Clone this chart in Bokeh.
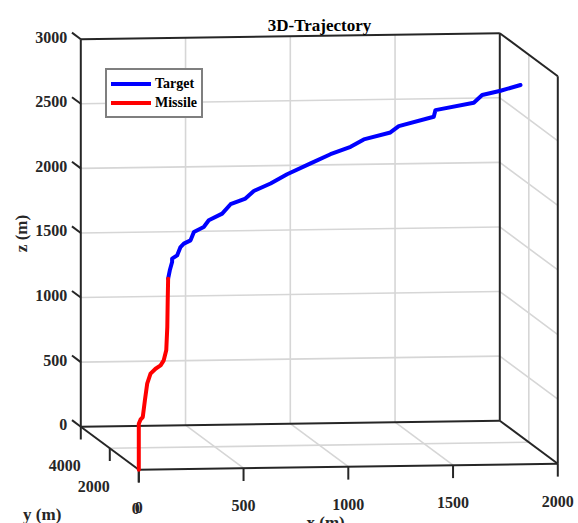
import numpy as np
from bokeh.plotting import figure
from bokeh.models import Range1d, Legend, LegendItem
from bokeh.core.properties import value
from bokeh.embed import file_html
from bokeh.resources import INLINE

# ---------------- data ----------------
title_text = "3D-Trajectory"
x_label = "x (m)"
y_label = "y (m)"
z_label = "z (m)"

x_ticks = [0, 500, 1000, 1500, 2000]
y_ticks = [0, 2000, 4000]
z_ticks = [0, 500, 1000, 1500, 2000, 2500, 3000]
x_lim = [0, 2000]
y_lim = [0, 4000]
z_lim = [0, 3000]

target_x = [140, 148, 159, 159, 183, 199, 215, 247, 263, 310, 334, 398, 438, 509, 549,
            629, 708, 820, 915, 1011, 1074, 1201, 1241, 1408, 1416, 1599, 1639, 1727, 1822]
target_y = [0, 0, 0, 0, 0, 0, 0, 0, 0, 0, 0, 0, 0, 0, 0,
            0, 0, 0, 0, 0, 0, 0, 0, 0, 0, 0, 0, 0, 0]
target_z = [1476, 1540, 1604, 1630, 1655, 1719, 1745, 1770, 1834, 1872, 1923, 1973, 2045, 2087, 2145,
            2201, 2271, 2352, 2421, 2476, 2532, 2583, 2631, 2700, 2751, 2804, 2863, 2894, 2936]

missile_x = [0, 0, 8, 19, 29, 40, 56, 80, 104, 119, 131, 136, 138, 140]
missile_y = [0, 0, 0, 0, 0, 0, 0, 0, 0, 0, 0, 0, 0, 0]
missile_z = [0, 356, 387, 407, 536, 665, 742, 780, 805, 844, 921, 1101, 1308, 1476]

# ---------------- projection (orthographic view, picture pixels) ----------------
W, H = 578, 523
ORIGIN = (138.3, 469.2)
EX = (419.0 / 2000, -6.0 / 2000)
EY = (-58.0 / 4000, -43.0 / 4000)
EZ = (0.0, -387.5 / 3000)


def proj(x, y, z):
    x = np.asarray(x, float)
    y = np.asarray(y, float)
    z = np.asarray(z, float)
    sx = ORIGIN[0] + x * EX[0] + y * EY[0] + z * EZ[0]
    sy = ORIGIN[1] + x * EX[1] + y * EY[1] + z * EZ[1]
    return sx, sy


def seg(p0, p1):
    a = proj(*p0)
    b = proj(*p1)
    return [float(a[0]), float(b[0])], [float(a[1]), float(b[1])]


p = figure(width=W, height=H, x_range=Range1d(0, W), y_range=Range1d(H, 0),
           x_axis_type=None, y_axis_type=None, toolbar_location=None,
           output_backend="svg", min_border=0)
p.grid.visible = False
p.outline_line_color = None
p.background_fill_color = "white"
p.border_fill_color = "white"

x0, x1 = x_lim
y0, y1 = y_lim
z0, z1 = z_lim

# ---------------- grid ----------------
gxs, gys = [], []
for xv in x_ticks:
    if x0 < xv < x1:
        for a, b in [((xv, y1, z0), (xv, y1, z1)), ((xv, y0, z0), (xv, y1, z0))]:
            sx, sy = seg(a, b); gxs.append(sx); gys.append(sy)
for yv in y_ticks:
    if y0 < yv < y1:
        for a, b in [((x1, yv, z0), (x1, yv, z1)), ((x0, yv, z0), (x1, yv, z0))]:
            sx, sy = seg(a, b); gxs.append(sx); gys.append(sy)
for zv in z_ticks:
    if z0 < zv < z1:
        for a, b in [((x0, y1, zv), (x1, y1, zv)), ((x1, y0, zv), (x1, y1, zv))]:
            sx, sy = seg(a, b); gxs.append(sx); gys.append(sy)
p.multi_line(gxs, gys, line_color="#d6d6d6", line_width=1.6)

# ---------------- box ----------------
edges = [
    ((x0, y1, z0), (x1, y1, z0)), ((x0, y1, z1), (x1, y1, z1)),
    ((x0, y1, z0), (x0, y1, z1)), ((x1, y1, z0), (x1, y1, z1)),
    ((x1, y0, z0), (x1, y0, z1)), ((x1, y0, z1), (x1, y1, z1)),
    ((x1, y0, z0), (x1, y1, z0)),
    ((x0, y0, z0), (x1, y0, z0)), ((x0, y0, z0), (x0, y1, z0)),
]
bxs, bys = [], []
for a, b in edges:
    sx, sy = seg(a, b); bxs.append(sx); bys.append(sy)

# ticks
tick_down = -100.0
for xv in x_ticks:
    sx, sy = seg((xv, y0, z0), (xv, y0, tick_down)); bxs.append(sx); bys.append(sy)
for yv in y_ticks:
    sx, sy = seg((x0, yv, z0), (x0, yv, tick_down)); bxs.append(sx); bys.append(sy)
ey_len = np.hypot(EY[0], EY[1])
tick_y_ext = 11.0 / ey_len
for zv in z_ticks:
    sx, sy = seg((x0, y1, zv), (x0, y1 + tick_y_ext, zv)); bxs.append(sx); bys.append(sy)
p.multi_line(bxs, bys, line_color="#262626", line_width=2)

# ---------------- trajectories ----------------
tx, ty = proj(target_x, target_y, target_z)
mx, my = proj(missile_x, missile_y, missile_z)
r_t = p.line(tx, ty, line_color="#0000ff", line_width=4, line_join="round", line_cap="round")
r_m = p.line(mx, my, line_color="#ff0000", line_width=4, line_join="round", line_cap="round")

# ---------------- texts ----------------
FONT = value("Liberation Serif")

# x tick labels
sx, sy = proj(x_ticks, [y0] * len(x_ticks), [z0] * len(x_ticks))
p.text(sx, sy + 37.5, text=[str(v) for v in x_ticks], text_font=FONT, text_font_style="bold",
       text_font_size="16px", text_align="center", text_baseline="alphabetic", text_color="#262626")

# y tick labels
sx, sy = proj([x0] * len(y_ticks), y_ticks, [z0] * len(y_ticks))
dx = np.array([-3.0 if v == y0 else -16.0 for v in y_ticks])
p.text(sx + dx, sy + 38.4, text=[str(v) for v in y_ticks], text_font=FONT, text_font_style="bold",
       text_font_size="16px", text_align="center", text_baseline="alphabetic", text_color="#262626")

# z tick labels
sx, sy = proj([x0] * len(z_ticks), [y1] * len(z_ticks), z_ticks)
p.text(sx - 13.5, sy - 2.0, text=[str(v) for v in z_ticks], text_font=FONT, text_font_style="bold",
       text_font_size="16px", text_align="right", text_baseline="alphabetic", text_color="#262626")

# axis labels
p.text([41.7], [514], text=[y_label], text_font=FONT, text_font_style="bold",
       text_font_size="17px", text_align="center", text_baseline="alphabetic", text_color="#262626")
p.text([306], [522], text=[x_label], text_font=FONT, text_font_style="bold",
       text_font_size="17px", text_align="left", text_baseline="alphabetic", text_color="#262626")
p.text([20.5], [233], text=[z_label], angle=np.pi / 2, text_font=FONT, text_font_style="bold",
       text_font_size="17px", text_align="center", text_baseline="middle", text_color="#262626")

# title
p.text([319], [25], text=[title_text], text_font=FONT, text_font_style="bold",
       text_font_size="17px", text_align="center", text_baseline="alphabetic", text_color="black")

# ---------------- legend ----------------
legend = Legend(items=[LegendItem(label="Target", renderers=[r_t]),
                       LegendItem(label="Missile", renderers=[r_m])],
                location=(105, 405), orientation="vertical",
                padding=4, spacing=0, margin=0,
                glyph_width=40, glyph_height=19, label_height=19, label_standoff=4,
                label_text_font="Liberation Serif", label_text_font_style="bold",
                label_text_font_size="14px", label_text_color="black",
                border_line_color="black", border_line_width=2,
                background_fill_color="white", background_fill_alpha=1.0)
p.add_layout(legend)

open("out.html", "w").write(file_html(p, INLINE))
